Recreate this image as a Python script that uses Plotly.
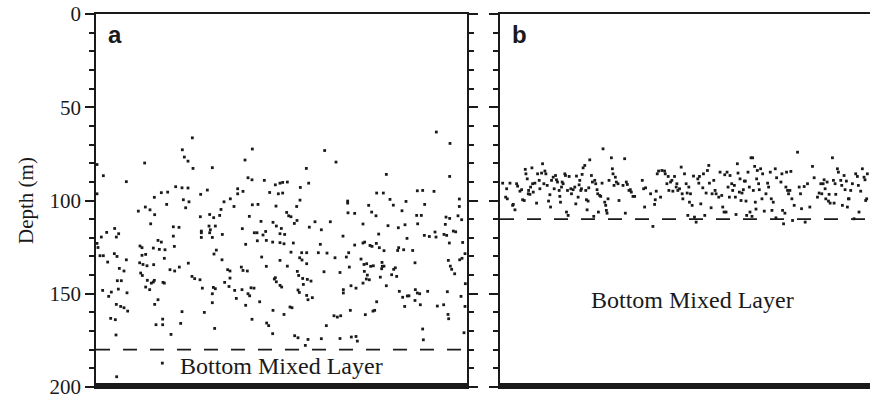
import plotly.graph_objects as go

# ---------------- data ----------------
# panel a : time (arbitrary units, 0..111.3 across panel) and depth (m)
a_time = [28.9, 46.9, 25.9, 26.5, 27.6, 29.1, 14.6, 34.9, 44.7, 2.2, 9.1, 45.6, 46.8, 50.5, 0.3, 0.3,
          23.9, 25.8, 27.6, 21.5, 19.6, 33.4, 31.4, 42.5, 42.5, 44.1, 53.8, 52.1, 54.7, 17.5, 26.2, 27.9,
          21.2, 26.9, 14.8, 16.2, 12.7, 17.6, 38.4, 40.3, 41.4, 37.5, 37.1, 46.9, 48.6, 54.0, 34.1,
          35.3, 31.3, 46.0, 49.5, 16.4, 23.2, 24.9, 33.9, 35.8, 34.3, 31.6, 31.6, 34.1, 37.9, 43.9, 47.5,
          48.3, 50.9, 50.1, 53.1, 54.1, 5.6, 6.8, 6.1, 3.2, 1.6, 0.3, 0.6, 23.2, 18.6, 19.6, 31.6, 34.9,
          48.4, 51.1, 53.0, 13.2, 13.8, 17.2, 19.0, 20.7, 23.5, 44.9, 1.2, 2.2, 5.5, 6.3, 3.5, 9.1, 7.0,
          8.4, 13.8, 14.9, 13.1, 14.1, 15.3, 17.3, 20.5, 36.1, 35.4, 37.8, 49.7, 51.1, 27.7, 22.2, 23.6,
          25.0, 43.6, 44.1, 45.4, 39.5, 40.2, 13.4, 13.9, 15.4, 17.5, 16.6, 17.2, 16.1, 14.9, 20.1, 20.5,
          6.4, 7.6, 6.7, 9.3, 4.6, 3.8, 2.0, 28.8, 29.6, 31.2, 31.9, 35.2, 35.8, 34.9, 38.6, 40.2, 41.6,
          39.9, 43.8, 42.1, 45.6, 46.1, 46.5, 47.4, 53.5, 54.1, 53.8, 18.6, 17.6, 6.1, 7.4, 8.4, 9.5,
          25.8, 34.9, 32.5, 49.1, 44.9, 53.1, 4.4, 5.8, 18.0, 20.0, 20.0, 25.4, 35.6, 46.8, 51.2, 51.8,
          22.5, 6.0, 53.0, 19.9, 6.2,
          102.1, 106.2, 68.6, 72.0, 63.1, 87.1, 106.1, 63.8, 61.3, 55.2, 56.0, 57.4, 56.0, 84.2, 86.2,
          96.4, 98.0, 101.4, 61.2, 60.2, 75.5, 75.5, 81.8, 88.2, 89.2, 93.0, 98.6, 109.0, 109.0, 82.7,
          84.0, 75.6, 77.6, 91.8, 57.2, 57.8, 58.5, 64.0, 65.7, 67.6, 70.3, 55.6, 55.2, 56.6, 59.5, 60.3,
          80.1, 87.6, 90.7, 92.7, 96.2, 97.6, 96.5, 105.0, 106.1, 104.8, 107.2, 107.9, 108.6, 109.7,
          101.7, 100.0, 98.5, 102.0, 104.4, 105.2, 74.1, 84.8, 93.3, 55.2, 56.4, 59.2, 67.3, 77.6, 80.1,
          80.6, 82.2, 84.1, 85.0, 86.4, 82.8, 90.8, 90.5, 92.3, 95.0, 106.0, 110.0, 109.8, 109.1, 110.7,
          58.5, 61.7, 63.2, 61.1, 61.8, 63.2, 66.7, 69.3, 71.7, 75.8, 75.1, 55.2, 57.4, 76.0, 68.4, 73.2,
          79.5, 80.4, 81.2, 82.4, 83.2, 85.8, 85.9, 86.4, 85.7, 89.3, 89.8, 90.2, 80.5, 81.4, 82.0, 85.3,
          88.7, 105.7, 106.3, 106.7, 107.6, 95.7, 110.8, 55.2, 60.4, 60.8, 62.0, 63.4, 64.5, 62.2, 55.7,
          74.2, 74.2, 76.5, 78.0, 80.1, 81.1, 87.1, 91.0, 92.0, 93.4, 93.9, 95.8, 96.4, 97.1, 99.5,
          105.4, 97.3, 92.6, 95.7, 109.5, 110.7, 102.4, 104.3, 60.6, 61.0, 63.2, 63.6, 64.9, 58.2, 58.8,
          56.4, 76.3, 80.8, 83.1, 84.2, 83.6, 71.4, 72.4, 73.4, 69.1, 98.0, 105.6, 105.8, 110.4, 59.6,
          60.6, 63.6, 67.6, 73.2, 76.6, 78.0, 78.4, 62.8, 98.2]
a_depth = [66.4, 72.4, 72.8, 76.7, 78.9, 82.8, 79.9, 82.4, 78.3, 86.7, 89.9, 87.8, 88.9, 89.2, 80.7, 96.4,
           92.6, 93.2, 93.3, 95.5, 95.8, 94.4, 96.7, 93.7, 96.4, 95.1, 91.6, 95.7, 96.4, 98.3, 99.6, 100.7,
           102.1, 103.9, 103.5, 105.0, 105.7, 107.6, 100.7, 99.1, 103.2, 104.8, 108.0, 102.3, 102.1, 103.0,
           107.5, 109.2, 108.7, 108.5, 111.2, 112.5, 114.1, 114.4, 113.7, 113.7, 115.7, 116.4, 117.3,
           117.3, 118.2, 115.1, 117.3, 117.3, 116.6, 118.5, 111.7, 113.7, 115.0, 117.8, 119.6, 117.1,
           119.6, 123.0, 125.2, 119.1, 121.4, 122.3, 119.8, 119.8, 121.6, 121.4, 122.3, 124.4, 125.3,
           125.5, 126.2, 126.4, 124.6, 123.5, 129.6, 129.6, 128.5, 130.0, 133.0, 131.8, 136.4, 137.8,
           129.4, 128.9, 133.4, 134.3, 135.0, 134.4, 131.0, 126.6, 128.7, 131.8, 130.3, 135.3, 133.6,
           137.1, 137.8, 135.7, 135.7, 137.5, 137.8, 137.1, 137.8, 138.9, 140.2, 142.8, 142.8, 144.3,
           143.7, 147.8, 146.4, 143.9, 144.3, 143.0, 143.0, 147.5, 149.5, 149.1, 151.4, 148.2, 140.7,
           141.9, 142.5, 147.0, 146.6, 147.3, 150.0, 143.9, 141.6, 148.2, 146.1, 147.8, 152.5, 150.0,
           151.1, 146.8, 147.0, 142.1, 143.6, 141.4, 153.2, 155.7, 155.7, 156.8, 157.5, 159.3, 159.6,
           154.8, 160.0, 154.3, 156.2, 158.9, 163.2, 163.9, 166.6, 166.6, 163.6, 165.9, 168.6, 163.7,
           165.7, 167.1, 171.8, 172.1, 171.4, 187.2, 194.5,
           63.3, 69.4, 73.2, 79.4, 82.8, 86.0, 87.1, 90.7, 93.0, 90.7, 90.3, 90.1, 96.0, 96.0, 96.0, 94.8,
           94.6, 95.1, 99.8, 103.2, 100.3, 101.4, 102.6, 99.4, 102.5, 100.5, 102.1, 99.2, 103.2, 106.2,
           108.2, 106.6, 106.9, 105.5, 106.4, 108.2, 108.7, 114.3, 111.4, 115.7, 111.4, 115.0, 117.8,
           118.2, 112.3, 110.7, 112.6, 113.5, 114.6, 113.0, 108.0, 108.0, 112.5, 108.9, 109.6, 112.8,
           116.4, 116.8, 108.2, 110.3, 116.9, 119.3, 118.7, 119.6, 118.2, 118.7, 119.1, 118.0, 120.3,
           122.6, 123.2, 122.8, 123.5, 123.9, 122.8, 122.3, 124.1, 123.0, 125.3, 126.9, 124.6, 125.3,
           126.8, 126.4, 126.8, 122.8, 122.5, 131.0, 131.8, 128.5, 127.7, 128.0, 128.0, 130.7, 131.9,
           133.9, 128.0, 128.2, 130.7, 128.0, 130.3, 132.1, 135.2, 135.7, 138.2, 138.6, 131.4, 134.3,
           133.9, 135.3, 135.0, 133.2, 135.3, 135.2, 136.6, 136.9, 136.1, 140.7, 138.0, 140.0, 142.5,
           141.1, 139.8, 132.1, 135.2, 136.9, 139.3, 133.4, 144.6, 145.5, 138.0, 140.2, 141.8, 142.3,
           143.2, 145.0, 146.4, 147.8, 149.6, 145.7, 147.0, 144.3, 142.1, 145.7, 148.7, 151.9, 151.2,
           151.1, 147.8, 149.6, 150.0, 148.7, 148.9, 155.9, 156.8, 153.6, 151.4, 156.8, 156.6, 155.9,
           148.0, 149.3, 150.9, 153.2, 152.1, 157.1, 157.5, 161.1, 158.9, 161.2, 159.3, 154.3, 158.9,
           161.8, 162.5, 161.8, 167.1, 168.9, 161.1, 163.4, 170.9, 172.5, 173.6, 174.5, 174.1, 174.0,
           173.2, 172.9, 175.4, 177.7, 174.7]

# panel b : time (arbitrary units, 9.0..120.3 across panel) and depth (m)
b_time = [9.8, 11.0, 10.7, 11.2, 12.0, 13.0, 13.5, 12.8, 14.0, 14.3, 15.0, 15.5, 15.8, 16.3, 16.6, 16.8,
          17.2, 17.5, 17.6, 18.0, 18.2, 18.6, 18.8, 19.0, 19.5, 20.0, 20.3, 20.8, 21.0, 21.5, 21.8, 22.2,
          22.5, 22.8, 23.2, 23.6, 24.0, 24.2, 24.5, 25.0, 25.3, 25.7, 26.0, 26.3, 26.8, 27.0, 27.2, 27.5,
          27.7, 28.0, 28.5, 28.7, 29.0, 29.3, 29.5, 29.8, 30.3, 30.5, 31.0, 31.5, 31.8, 32.0, 32.5, 32.8,
          33.0, 33.3, 33.5, 33.7, 34.0, 34.5, 34.8, 35.0, 35.2, 35.5, 35.7, 36.0, 36.5, 36.8, 37.2, 37.5,
          37.8, 38.2, 38.4, 38.6, 39.0, 39.3, 39.7, 40.0, 40.5, 40.8, 41.0, 41.2, 41.5, 41.8, 42.5, 42.8,
          43.0, 43.3, 43.7, 44.0, 44.5, 44.8, 46.0, 46.5, 46.7, 47.0, 47.3, 47.8, 48.2, 48.5, 49.0, 49.5,
          51.8, 52.2, 52.5, 52.8, 54.3, 55.0, 55.5, 55.7, 56.0, 56.3, 56.7, 57.3, 57.7, 58.5, 58.7, 59.2,
          59.6, 59.8, 60.3, 60.7, 61.0, 61.5, 62.0, 62.2, 62.5, 63.0, 63.5, 63.8, 64.0, 64.5, 65.0, 65.3,
          65.5, 65.8, 66.0, 66.3, 66.8, 67.2, 67.5, 68.0, 68.5, 68.8, 69.0, 69.4, 70.0, 70.2, 70.6, 71.0,
          71.4, 71.8, 72.0, 72.5, 72.8, 73.3, 73.7, 74.0, 74.8, 75.2, 75.7, 76.0, 76.4, 76.6, 77.0, 77.3,
          77.6, 78.0, 78.2, 78.7, 79.0, 79.5, 79.8, 80.0, 80.4, 80.6, 81.0, 81.2, 81.5, 81.8, 82.2, 82.5,
          82.8, 83.0, 83.2, 83.6, 84.0, 84.2, 84.5, 84.8, 85.0, 85.2, 85.6, 85.8, 86.0, 86.2, 86.4, 86.8,
          87.0, 87.4, 87.8, 88.0, 88.5, 89.0, 89.5, 89.8, 90.3, 90.6, 90.8, 91.2, 91.8, 92.0, 92.2, 93.5,
          93.8, 94.0, 94.3, 94.7, 95.0, 95.2, 95.5, 95.8, 96.2, 96.5, 96.8, 97.0, 97.5, 98.5, 99.0, 99.4,
          99.7, 100.5, 100.8, 101.5, 102.2, 103.0, 103.5, 104.5, 105.0, 105.5, 105.8, 106.2, 106.5, 106.8,
          107.0, 107.4, 107.8, 108.0, 108.3, 109.0, 109.3, 109.5, 109.8, 110.0, 110.5, 110.8, 111.5,
          111.8, 112.0, 112.5, 112.8, 113.2, 113.5, 113.8, 114.0, 114.5, 115.0, 115.5, 116.0, 116.5,
          116.8, 117.0, 117.5, 118.0, 118.5, 118.8, 119.0, 119.3, 119.5]
b_depth = [90.7, 93.7, 98.2, 99.1, 90.7, 102.1, 105.0, 102.6, 91.0, 92.3, 95.0, 94.2, 99.6, 100.0, 83.3,
           85.7, 88.4, 96.4, 94.6, 96.7, 92.8, 82.5, 91.0, 95.5, 90.7, 101.4, 85.7, 89.2, 93.7, 85.3, 80.3,
           91.0, 84.2, 85.7, 91.9, 100.3, 96.9, 103.5, 89.2, 87.5, 93.7, 86.6, 88.9, 90.1, 94.6, 97.8,
           100.9, 92.8, 90.1, 91.0, 85.7, 86.6, 106.2, 94.6, 108.0, 87.1, 93.7, 96.4, 94.2, 92.8, 101.8,
           86.9, 98.2, 91.6, 89.2, 94.6, 93.7, 86.0, 82.5, 81.2, 94.6, 99.6, 105.0, 100.3, 93.2, 78.2, 86.6,
           90.1, 108.5, 89.2, 91.0, 94.2, 96.4, 106.2, 97.3, 97.8, 90.7, 72.3, 100.9, 102.6, 105.3, 106.8,
           99.1, 89.2, 77.1, 83.0, 85.7, 91.9, 87.5, 90.1, 91.0, 100.0, 91.9, 77.6, 106.8, 90.1, 91.4, 94.6,
           94.2, 95.5, 97.8, 97.8, 89.2, 93.7, 103.5, 93.2, 96.4, 113.9, 102.1, 99.6, 95.0, 85.7, 84.2,
           98.2, 83.9, 84.2, 85.7, 91.0, 87.1, 94.6, 90.1, 89.2, 95.0, 87.1, 92.8, 91.0, 94.6, 93.7, 82.1,
           96.4, 99.1, 85.7, 91.0, 96.0, 108.0, 92.8, 100.9, 96.4, 102.6, 86.9, 108.9, 111.6, 88.4, 90.7,
           87.1, 101.8, 93.2, 85.7, 108.0, 96.0, 83.9, 81.2, 90.7, 103.9, 96.4, 89.2, 94.6, 96.4, 98.2,
           84.8, 97.3, 103.5, 106.2, 86.2, 106.2, 84.8, 92.8, 98.2, 86.6, 91.0, 94.6, 91.9, 98.2, 107.5,
           80.3, 85.3, 95.5, 88.4, 100.0, 96.0, 94.2, 89.6, 89.6, 100.3, 108.0, 84.8, 92.8, 106.2, 77.1,
           108.5, 77.1, 94.6, 81.7, 100.9, 104.6, 88.4, 83.9, 91.0, 94.2, 83.0, 99.1, 85.7, 105.7, 96.4,
           90.7, 92.8, 84.8, 99.1, 105.3, 100.9, 83.0, 109.3, 87.8, 90.1, 85.7, 105.3, 112.5, 106.8, 92.8,
           84.8, 94.6, 96.4, 94.6, 84.4, 99.1, 110.7, 102.6, 74.1, 92.8, 96.4, 104.4, 92.5, 111.6, 91.0,
           103.5, 81.7, 87.8, 98.2, 96.0, 91.0, 96.4, 91.0, 88.9, 93.7, 99.1, 90.1, 100.3, 96.7, 101.4,
           77.1, 89.2, 101.4, 91.0, 96.7, 83.0, 84.8, 89.2, 91.9, 102.6, 86.6, 94.2, 89.6, 103.5, 99.1,
           99.1, 94.6, 91.0, 109.8, 85.7, 87.1, 91.9, 106.2, 95.0, 83.0, 87.5, 88.9, 100.0, 99.1, 85.7]

mixed_layer_top = [180, 110]          # dashed line depth for panels a, b
panel_labels = ["a", "b"]
layer_label = "Bottom Mixed Layer"
depth_ticks = [0, 50, 100, 150, 200]

# ---------------- figure ----------------
INK = "#1a1a1a"
SERIF = "Liberation Serif"
SANS = "Liberation Sans"

fig = go.Figure()
fig.add_trace(go.Scatter(x=a_time, y=a_depth, mode="markers", xaxis="x", yaxis="y",
                         marker=dict(symbol="square", size=2.8, color=INK, line=dict(width=0)),
                         showlegend=False, hoverinfo="skip"))
fig.add_trace(go.Scatter(x=b_time, y=b_depth, mode="markers", xaxis="x2", yaxis="y2",
                         marker=dict(symbol="square", size=2.8, color=INK, line=dict(width=0)),
                         showlegend=False, hoverinfo="skip"))

yax_common = dict(range=[200, 0], showline=True, linecolor=INK, linewidth=1.5,
                  ticks="outside", ticklen=9, tickwidth=1.5, tickcolor=INK, automargin=False,
                  tickmode="array", tickvals=depth_ticks, showgrid=False, zeroline=False,
                  ticklabeloverflow="allow",
                  minor=dict(dtick=10, ticks="outside", ticklen=5, tickwidth=1.5, tickcolor=INK, showgrid=False))
xax_common = dict(showline=True, linecolor=INK, linewidth=1.5, mirror=True, ticks="",
                  showticklabels=False, showgrid=False, zeroline=False, automargin=False)

fig.update_layout(
    template="none",
    width=870, height=397,
    margin=dict(l=96, r=0, t=14, b=10, autoexpand=False),
    font=dict(family=SERIF, size=22, color=INK),
    paper_bgcolor="white", plot_bgcolor="white",
    xaxis=dict(domain=[0, 371 / 774], range=[0, 111.3], anchor="y", **xax_common),
    xaxis2=dict(domain=[404 / 774, 1], range=[9.0, 120.3], anchor="y2", **xax_common),
    yaxis=dict(anchor="x", showticklabels=True, mirror="ticks",
               tickfont=dict(family=SERIF, size=21, color=INK),
               title=dict(text="Depth (m)", font=dict(family=SERIF, size=21, color=INK), standoff=10),
               **yax_common),
    yaxis2=dict(anchor="x2", showticklabels=False, mirror=False, **yax_common),
)

shapes = []
annotations = []
for i, (xr, yr) in enumerate([("x", "y"), ("x2", "y2")]):
    # sea floor bar
    shapes.append(dict(type="rect", xref=f"{xr} domain", yref=f"{yr} domain",
                       x0=-0.003, x1=1.003, y0=-2 / 373, y1=4 / 373,
                       fillcolor=INK, line=dict(width=0), layer="above"))
    # top of bottom mixed layer
    shapes.append(dict(type="line", xref=f"{xr} domain", yref=yr, x0=0, x1=1,
                       y0=mixed_layer_top[i], y1=mixed_layer_top[i],
                       line=dict(color=INK, width=1.7, dash="14px,13px")))
    annotations.append(dict(text=f"<b>{panel_labels[i]}</b>", xref=f"{xr} domain", yref=yr,
                            x=0.026, y=11, xanchor="left", yanchor="middle", showarrow=False,
                            font=dict(family=SANS, size=24, color=INK)))

annotations.append(dict(text=layer_label, xref="x domain", yref="y", x=0.5, y=189,
                        xanchor="center", yanchor="middle", showarrow=False,
                        font=dict(family=SERIF, size=24, color=INK)))
annotations.append(dict(text=layer_label, xref="x2 domain", yref="y2", x=0.52, y=153.5,
                        xanchor="center", yanchor="middle", showarrow=False,
                        font=dict(family=SERIF, size=24, color=INK)))
fig.update_layout(shapes=shapes, annotations=annotations)

fig.write_html("out.html", config={"displayModeBar": False},
               post_script="document.body.style.margin='0';document.body.style.padding='0';"
                           "document.body.style.overflow='hidden';")
